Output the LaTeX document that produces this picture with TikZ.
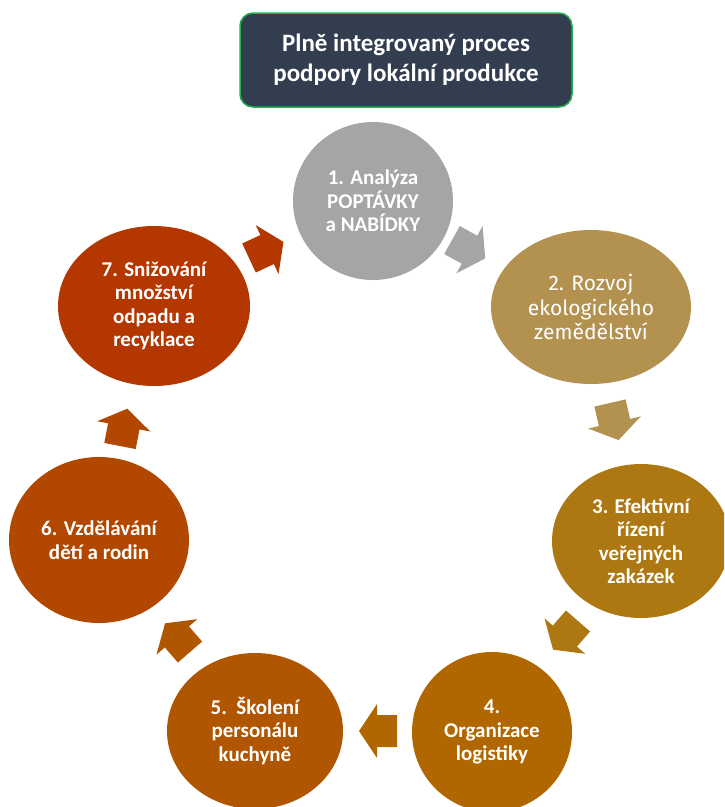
\documentclass[tikz,border=0pt]{standalone}
\usepackage{fontspec}
\setmainfont{Carlito}
\newfontfamily\dinfont{Fira Sans}
\usetikzlibrary{shapes.geometric}
\definecolor{titlebg}{HTML}{333D50}
\definecolor{titleborder}{HTML}{22B14C}
\definecolor{cA}{HTML}{A5A5A5}
\definecolor{cB}{HTML}{B3914F}
\definecolor{cC}{HTML}{AD7812}
\definecolor{cD}{HTML}{B06700}
\definecolor{cE}{HTML}{B05500}
\definecolor{cF}{HTML}{B24700}
\definecolor{cG}{HTML}{B43700}
\tikzset{
  stage/.style={ellipse, inner sep=0pt, text=white, align=center,
    font=\bfseries\fontsize{21}{23.5}\selectfont},
  pics/barrow/.style={code={
    \fill[#1] (0,-16) -- (20,-16) -- (20,-27) -- (38,0) -- (20,27) -- (20,16) -- (0,16) -- cycle;}}
}
\begin{document}
\begin{tikzpicture}[x=1pt,y=1pt]
\path[use as bounding box] (0,0) rectangle (724,-807);
\clip (0,0) rectangle (724,-807);

\node[rounded corners=13pt, fill=titlebg, draw=titleborder, line width=1.5pt,
  minimum width=332pt, minimum height=94pt, text=white, align=center,
  font=\bfseries\fontsize{25}{30}\selectfont] (title) at (406,-60)
  {Plně integrovaný proces\\podpory lokální produkce};

\node[stage, fill=cA, minimum width=160pt, minimum height=158pt] (s1) at (373,-201)
  {1. Analýza\\POPTÁVKY\\a NABÍDKY};
\node[stage, fill=cB, minimum width=200pt, minimum height=154pt,
  font=\dinfont\fontsize{21}{24.5}\selectfont] (s2) at (591,-307)
  {2. Rozvoj\\ekologického\\zemědělství};
\node[stage, fill=cC, minimum width=178pt, minimum height=154pt] (s3) at (641,-541)
  {3. Efektivní\\řízení\\veřejných\\zakázek};
\node[stage, fill=cD, minimum width=160pt, minimum height=160pt] (s4) at (492,-732)
  {4.\\Organizace\\logistiky};
\node[stage, fill=cE, minimum width=176pt, minimum height=156pt] (s5) at (255,-731)
  {5.\ \ Školení\\personálu\\kuchyně};
\node[stage, fill=cF, minimum width=180pt, minimum height=166pt] (s6) at (99,-540)
  {6. Vzdělávání\\dětí a rodin};
\node[stage, fill=cG, minimum width=192pt, minimum height=160pt] (s7) at (154,-306)
  {7. Snižování\\množství\\odpadu a\\recyklace};

\pic[rotate=-29] at (452,-240) {barrow=cA};
\pic[rotate=-77] at (610,-403) {barrow=cB};
\pic[rotate=-131] at (578,-621) {barrow=cC};
\pic[rotate=180] at (397,-731) {barrow=cD};
\pic[rotate=131] at (190,-652) {barrow=cE};
\pic[rotate=79] at (120,-446) {barrow=cF};
\pic[rotate=25] at (249,-258) {barrow=cG};
\end{tikzpicture}
\end{document}
